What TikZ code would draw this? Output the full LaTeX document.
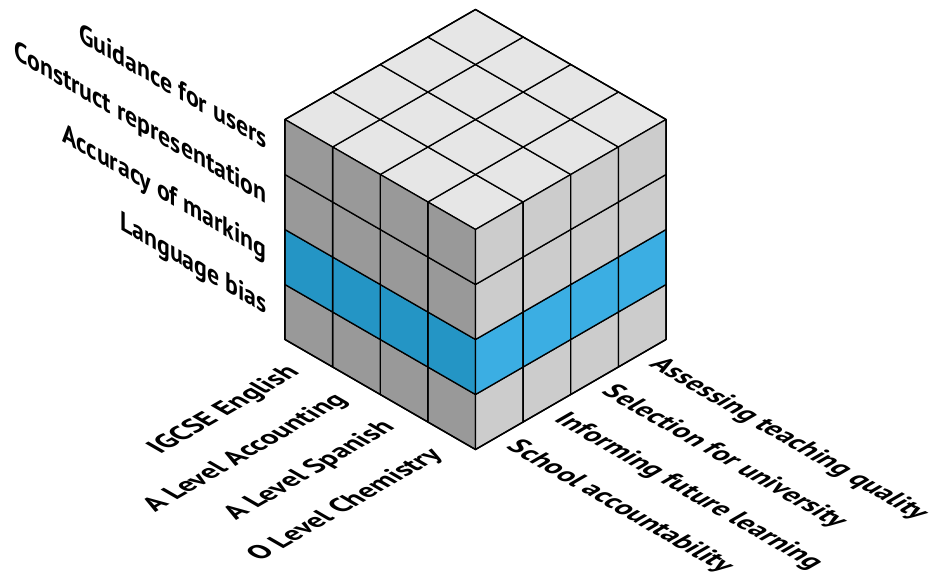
\documentclass[tikz,border=0pt]{standalone}
\usepackage{fontspec}
\setmainfont{PT Sans}
\definecolor{topc}{HTML}{E6E6E6}
\definecolor{leftc}{HTML}{999999}
\definecolor{rightc}{HTML}{CCCCCC}
\definecolor{leftblue}{HTML}{2495C5}
\definecolor{rightblue}{HTML}{3BAEE3}
\tikzset{
  cell/.style={draw=black, line width=1.3pt, line join=round},
  lab/.style={transform shape, inner sep=0pt, font=\fontsize{27.5}{31}\selectfont\bfseries}
}
\begin{document}
\begin{tikzpicture}[x=1pt,y=1pt]
\useasboundingbox (0,0) rectangle (933,582);
\begin{scope}[shift={(475.5,132.5)}, x={(47.63pt,27.5pt)}, y={(-47.63pt,27.5pt)}, z={(0pt,55pt)}]
  % top face
  \foreach \i in {0,...,3}
    \foreach \j in {0,...,3}
      \filldraw[cell, fill=topc] (\i,\j,4) -- (\i+1,\j,4) -- (\i+1,\j+1,4) -- (\i,\j+1,4) -- cycle;
  % left face (x=0)
  \foreach \j in {0,...,3}
    \foreach \k in {0,...,3}{
      \ifnum\k=1 \def\col{leftblue}\else\def\col{leftc}\fi
      \filldraw[cell, fill=\col] (0,\j,\k) -- (0,\j+1,\k) -- (0,\j+1,\k+1) -- (0,\j,\k+1) -- cycle;
    }
  % right face (y=0)
  \foreach \i in {0,...,3}
    \foreach \k in {0,...,3}{
      \ifnum\k=1 \def\col{rightblue}\else\def\col{rightc}\fi
      \filldraw[cell, fill=\col] (\i,0,\k) -- (\i+1,0,\k) -- (\i+1,0,\k+1) -- (\i,0,\k+1) -- cycle;
    }
  % outline
  \draw[cell, line width=1.5pt] (0,0,0) -- (4,0,0) -- (4,0,4) -- (4,4,4) -- (0,4,4) -- (0,4,0) -- cycle;
  \draw[cell, line width=1.5pt] (0,0,0) -- (0,0,4);
  % wall labels
  \foreach \z/\t/\n in {3/Guidance for users/w1, 2/Construct representation/w2, 1/Accuracy of marking/w3, 0/Language bias/w4}{
    \begin{scope}[shift={(0,4.38,\z+0.265)}, cm={0.866,-0.5,0,1,(0,0)}]
      \node[lab, anchor=base east] (\n) at (0,0) {\t};
    \end{scope}
  }
  % bottom-left labels
  \foreach \y/\t/\n in {3/IGCSE English/b1, 2/A Level Accounting/b2, 1/A Level Spanish/b3, 0/O Level Chemistry/b4}{
    \begin{scope}[shift={(-0.45,\y+0.22,0)}, cm={0.866,0.5,-0.866,0.5,(0,0)}]
      \node[lab, anchor=base east] (\n) at (0,0) {\t};
    \end{scope}
  }
  % right labels
  \foreach \x/\t/\n in {3/Assessing teaching quality/r1, 2/Selection for university/r2, 1/Informing future learning/r3, 0/School accountability/r4}{
    \begin{scope}[shift={(\x+0.34,-0.28,0)}, cm={0.866,-0.5,0.866,0.5,(0,0)}]
      \node[lab, anchor=base west] (\n) at (0,0) {\t};
    \end{scope}
  }
\end{scope}
\end{tikzpicture}
\end{document}
